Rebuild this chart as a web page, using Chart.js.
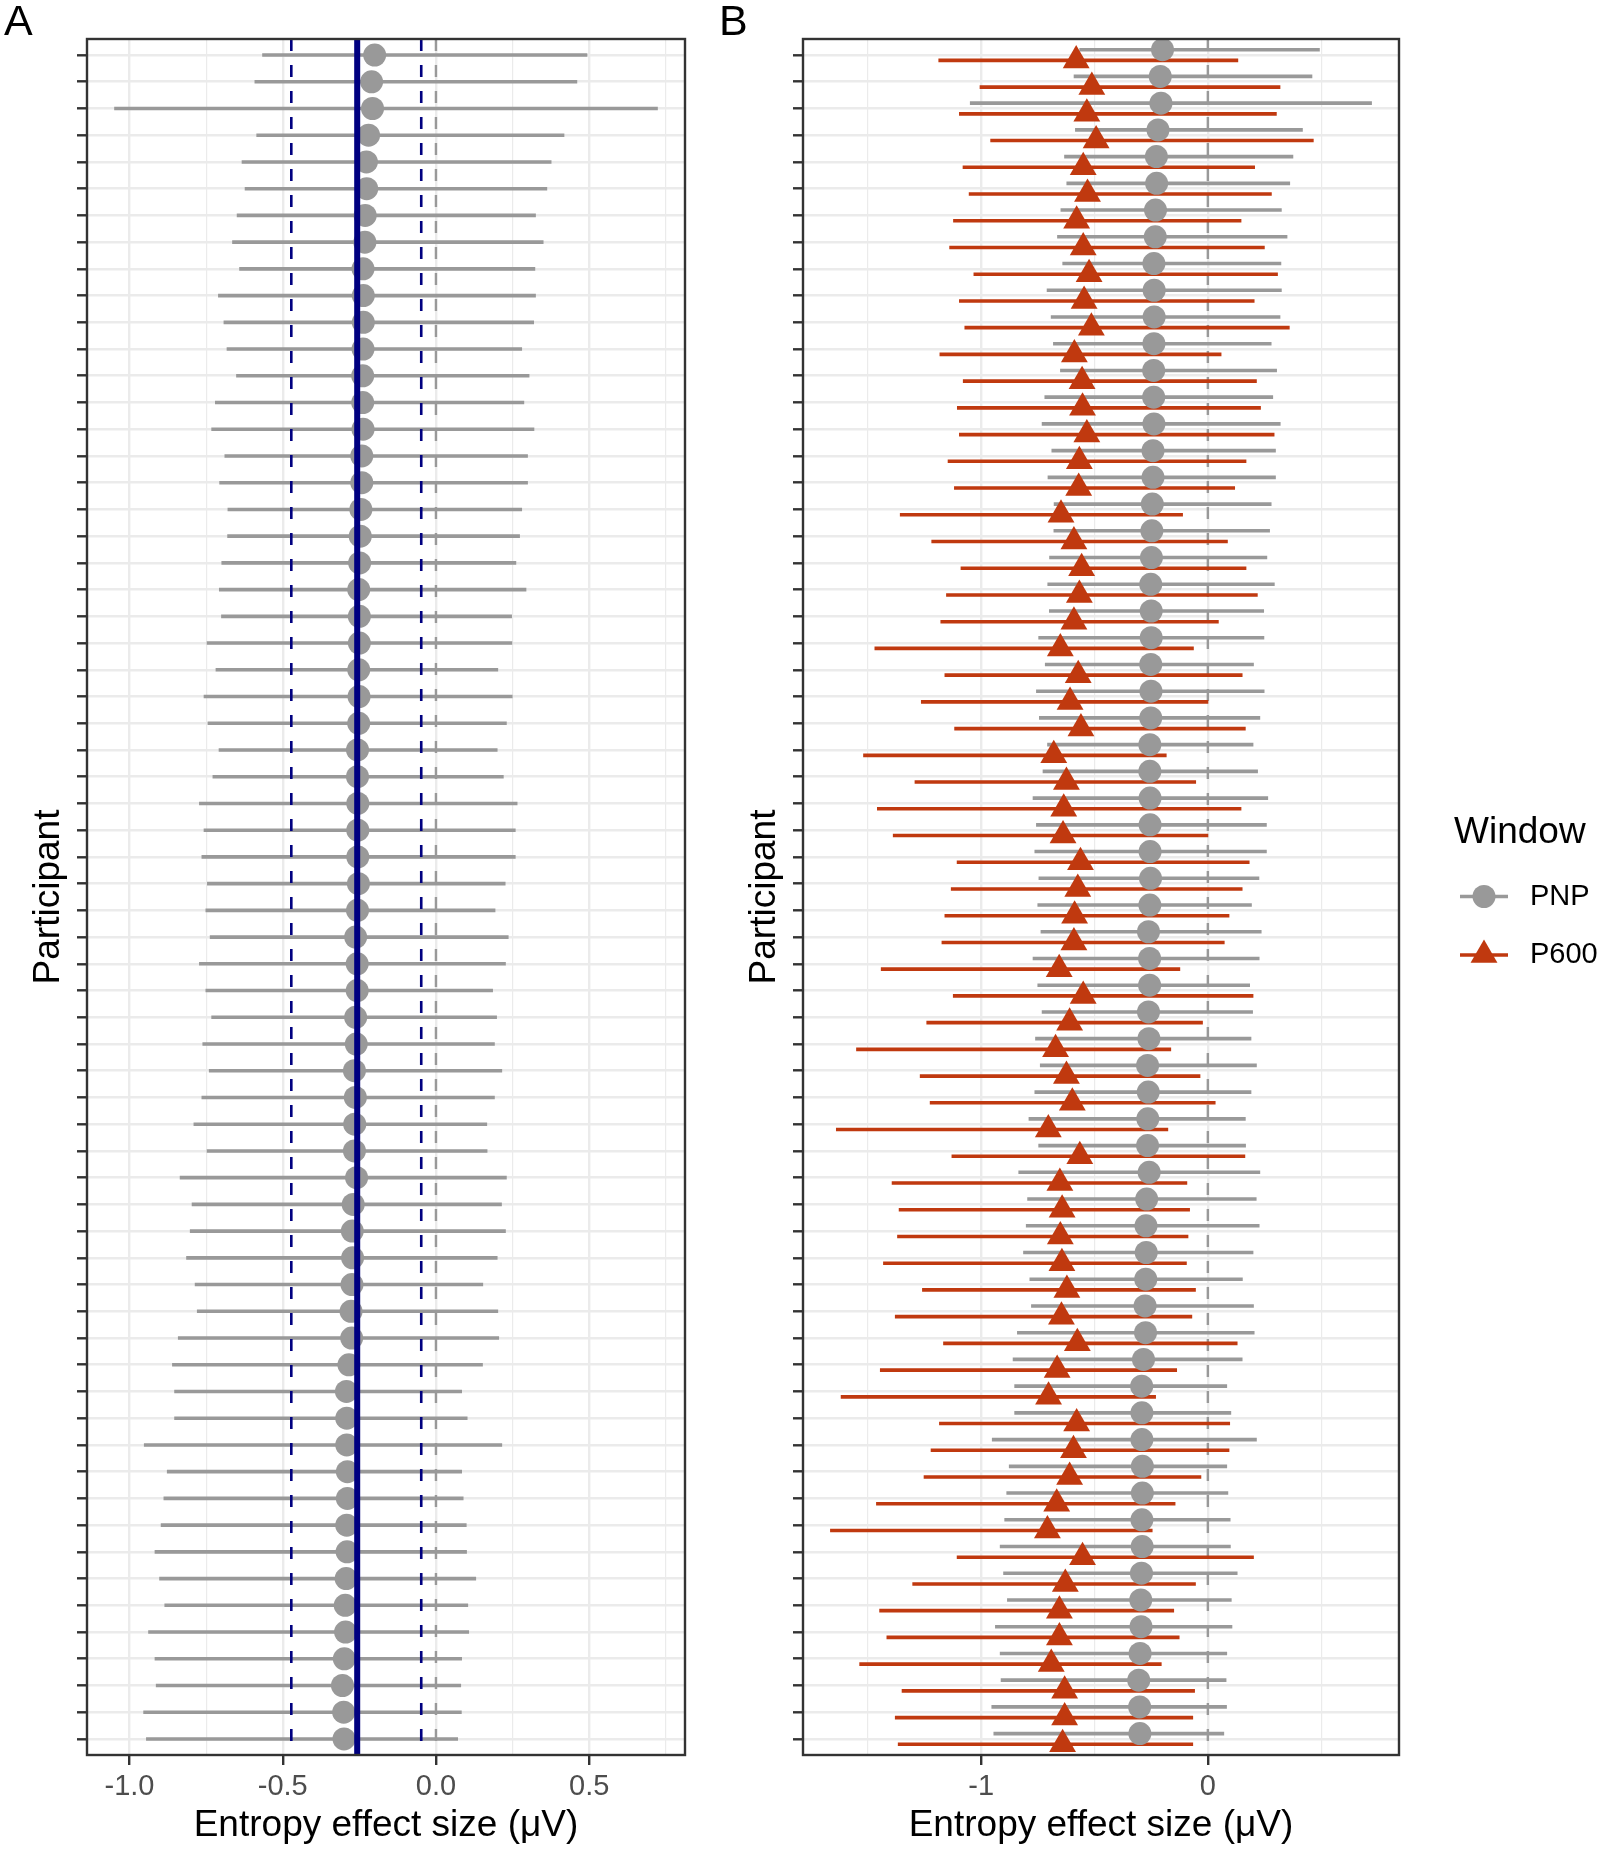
<!DOCTYPE html>
<html>
<head>
<meta charset="utf-8">
<title>Entropy effect size by participant</title>
<script src="https://cdn.jsdelivr.net/npm/chart.js@4.4.1/dist/chart.umd.min.js"></script>
<style>
  html, body { margin: 0; padding: 0; background: #ffffff; }
  .panel { position: absolute; top: 0; height: 1850px; }
  #panelA { left: 0; width: 700px; }
  #panelB { left: 700px; width: 903px; }
</style>
</head>
<body>
<div class="panel" id="panelA"><canvas id="chartA"></canvas></div>
<div class="panel" id="panelB"><canvas id="chartB"></canvas></div>
<script>
// 64 participants, listed top to bottom
const participants = Array.from({ length: 64 }, (_, i) => i + 1);

// PNP window: estimate and 95% interval per participant
const pnpEst = [
  -0.200, -0.210, -0.207, -0.220, -0.227, -0.226, -0.231, -0.232, -0.238, -0.237,
  -0.237, -0.238, -0.239, -0.239, -0.238, -0.242, -0.242, -0.245, -0.247, -0.249,
  -0.252, -0.250, -0.250, -0.252, -0.251, -0.252, -0.256, -0.256, -0.255, -0.255,
  -0.255, -0.253, -0.256, -0.262, -0.257, -0.257, -0.262, -0.260, -0.266, -0.263,
  -0.265, -0.266, -0.259, -0.270, -0.273, -0.272, -0.274, -0.277, -0.275, -0.284,
  -0.292, -0.291, -0.291, -0.289, -0.289, -0.291, -0.290, -0.293, -0.296, -0.295,
  -0.299, -0.305, -0.301, -0.300];
const pnpLow = [
  -0.567, -0.592, -1.050, -0.586, -0.634, -0.624, -0.650, -0.665, -0.642, -0.711,
  -0.693, -0.683, -0.652, -0.721, -0.733, -0.690, -0.707, -0.680, -0.681, -0.700,
  -0.708, -0.701, -0.748, -0.719, -0.758, -0.745, -0.709, -0.729, -0.773, -0.758,
  -0.765, -0.747, -0.752, -0.738, -0.773, -0.752, -0.733, -0.762, -0.741, -0.765,
  -0.791, -0.748, -0.836, -0.797, -0.803, -0.815, -0.787, -0.780, -0.842, -0.861,
  -0.854, -0.854, -0.953, -0.878, -0.889, -0.898, -0.918, -0.903, -0.886, -0.939,
  -0.918, -0.914, -0.955, -0.946];
const pnpHigh = [
  0.494, 0.461, 0.724, 0.419, 0.377, 0.363, 0.326, 0.351, 0.324, 0.326,
  0.320, 0.281, 0.305, 0.288, 0.321, 0.300, 0.300, 0.281, 0.274, 0.262,
  0.295, 0.248, 0.249, 0.203, 0.250, 0.231, 0.201, 0.221, 0.266, 0.260,
  0.260, 0.227, 0.194, 0.237, 0.228, 0.186, 0.199, 0.192, 0.216, 0.192,
  0.167, 0.168, 0.231, 0.215, 0.228, 0.201, 0.154, 0.203, 0.206, 0.153,
  0.085, 0.103, 0.216, 0.085, 0.090, 0.100, 0.101, 0.131, 0.105, 0.108,
  0.085, 0.082, 0.084, 0.072];

// P600 window
const p600Est = [
  -0.581, -0.512, -0.534, -0.493, -0.550, -0.531, -0.579, -0.550, -0.524, -0.546,
  -0.514, -0.589, -0.555, -0.553, -0.534, -0.567, -0.570, -0.648, -0.591, -0.557,
  -0.567, -0.591, -0.651, -0.572, -0.608, -0.560, -0.680, -0.624, -0.636, -0.639,
  -0.562, -0.574, -0.588, -0.591, -0.656, -0.550, -0.610, -0.672, -0.624, -0.598,
  -0.704, -0.565, -0.653, -0.643, -0.651, -0.644, -0.622, -0.646, -0.576, -0.665,
  -0.703, -0.579, -0.593, -0.610, -0.667, -0.708, -0.553, -0.629, -0.655, -0.655,
  -0.691, -0.632, -0.632, -0.641];
const p600Low = [
  -1.189, -1.007, -1.098, -0.960, -1.082, -1.055, -1.124, -1.141, -1.034, -1.098,
  -1.074, -1.184, -1.081, -1.107, -1.098, -1.148, -1.120, -1.359, -1.220, -1.091,
  -1.155, -1.180, -1.471, -1.162, -1.266, -1.119, -1.521, -1.294, -1.460, -1.390,
  -1.108, -1.134, -1.162, -1.175, -1.443, -1.125, -1.242, -1.552, -1.271, -1.227,
  -1.641, -1.131, -1.395, -1.364, -1.371, -1.433, -1.261, -1.381, -1.168, -1.447,
  -1.620, -1.186, -1.223, -1.254, -1.464, -1.667, -1.108, -1.304, -1.450, -1.418,
  -1.538, -1.351, -1.381, -1.368];
const p600High = [
  0.134, 0.320, 0.304, 0.467, 0.208, 0.282, 0.148, 0.251, 0.309, 0.206,
  0.361, 0.060, 0.216, 0.234, 0.294, 0.170, 0.120, -0.110, 0.088, 0.170,
  0.220, 0.048, -0.062, 0.153, 0.002, 0.167, -0.182, -0.052, 0.148, 0.002,
  0.184, 0.153, 0.095, 0.074, -0.122, 0.201, -0.022, -0.162, -0.033, 0.034,
  -0.175, 0.165, -0.091, -0.079, -0.086, -0.093, -0.053, -0.069, 0.131, -0.136,
  -0.229, 0.098, 0.095, -0.029, -0.143, -0.244, 0.203, -0.053, -0.149, -0.125,
  -0.204, -0.057, -0.065, -0.065];

// group-level PNP effect and its interval (vertical lines in panel A)
const pnpMean = -0.257;
const pnpMeanCI = [-0.472, -0.048];

const seriesNames = ['PNP', 'P600'];

// x axis ticks
const ticksA = [-1, -0.5, 0, 0.5];
const tickLabelsA = ['-1.0', '-0.5', '0.0', '0.5'];
const minorA = [-0.75, -0.25, 0.25, 0.75];
const ticksB = [-1, 0];
const tickLabelsB = ['-1', '0'];
const minorB = [-1.5, -0.5, 0.5];

const FONT = '"Liberation Sans", Arial, Helvetica, sans-serif';
const GREY = '#999999';
const RED = '#C0390F';
const NAVY = '#000080';
const GRID = '#EBEBEB';
const INK = '#333333';

Chart.defaults.font.family = FONT;

const yMin = 0.4;
const yMax = participants.length + 0.6;

function segments(lo, hi, shift) {
  const out = [];
  participants.forEach((p, i) => {
    out.push({ x: lo[i], y: p + shift }, { x: hi[i], y: p + shift }, { x: null, y: null });
  });
  return out;
}

function marks(est, shift) {
  return participants.map((p, i) => ({ x: est[i], y: p + shift }));
}

function vline(x) {
  return [{ x: x, y: yMin }, { x: x, y: yMax }];
}

// ggplot-like 5% expansion of the data range
function expandRange(arrays) {
  const all = [].concat(...arrays);
  const lo = Math.min(...all), hi = Math.max(...all);
  const pad = (hi - lo) * 0.05;
  return [lo - pad, hi + pad];
}

function lineSet(data, color, width, order, dash) {
  return {
    type: 'line', data: data, borderColor: color, borderWidth: width,
    borderDash: dash || [], borderCapStyle: 'butt', pointRadius: 0, pointHoverRadius: 0,
    fill: false, tension: 0, spanGaps: false, order: order
  };
}

function markSet(label, data, color, style, radius, order) {
  return {
    type: 'line', label: label, data: data, showLine: false,
    pointStyle: style, pointRadius: radius, pointHoverRadius: radius,
    pointBackgroundColor: color, pointBorderWidth: 0, borderColor: color, order: order
  };
}

const panelFrame = {
  id: 'panelFrame',
  afterDraw(chart, args, o) {
    const { ctx, chartArea: a } = chart;
    ctx.save();
    ctx.strokeStyle = INK;
    ctx.lineWidth = 2.4;
    ctx.strokeRect(a.left, a.top, a.right - a.left, a.bottom - a.top);
    ctx.fillStyle = '#000';
    ctx.font = '43px ' + FONT;
    ctx.textBaseline = 'alphabetic';
    ctx.fillText(o.tag, o.tagX, 35);
    ctx.restore();
  }
};

const windowLegend = {
  id: 'windowLegend',
  afterDraw(chart, args, o) {
    if (!o.items) return;
    const ctx = chart.ctx;
    ctx.save();
    ctx.textBaseline = 'middle';
    ctx.textAlign = 'left';
    ctx.fillStyle = '#000';
    ctx.font = '37px ' + FONT;
    ctx.fillText(o.title, o.x, o.titleY);
    ctx.font = '29px ' + FONT;
    o.items.forEach((it, k) => {
      const cy = o.firstY + k * o.step;
      ctx.strokeStyle = it.color;
      ctx.lineWidth = 3.6;
      ctx.beginPath();
      ctx.moveTo(o.keyX - 24, cy);
      ctx.lineTo(o.keyX + 24, cy);
      ctx.stroke();
      ctx.fillStyle = it.color;
      ctx.beginPath();
      if (it.shape === 'triangle') {
        const r = 15.5;
        ctx.moveTo(o.keyX, cy - r);
        ctx.lineTo(o.keyX + r * 0.866, cy + r / 2);
        ctx.lineTo(o.keyX - r * 0.866, cy + r / 2);
        ctx.closePath();
      } else {
        ctx.arc(o.keyX, cy, 11.5, 0, Math.PI * 2);
      }
      ctx.fill();
      ctx.fillStyle = '#000';
      ctx.fillText(it.label, o.labelX, cy);
    });
    ctx.restore();
  }
};

function buildOptions(cfg) {
  const majors = cfg.ticks;
  const isMajor = c => c.tick && majors.includes(c.tick.value);
  return {
    responsive: true,
    maintainAspectRatio: false,
    animation: false,
    events: [],
    layout: { padding: { left: 0, right: cfg.padRight, top: 39, bottom: 0 } },
    plugins: {
      legend: { display: false },
      tooltip: { enabled: false },
      panelFrame: { tag: cfg.tag, tagX: cfg.tagX },
      windowLegend: cfg.legend || {}
    },
    scales: {
      x: {
        type: 'linear',
        min: cfg.range[0],
        max: cfg.range[1],
        afterBuildTicks: s => {
          s.ticks = majors.concat(cfg.minor).sort((a, b) => a - b).map(v => ({ value: v }));
        },
        afterFit: s => { s.height = 95; },
        border: { display: false },
        grid: {
          color: GRID,
          lineWidth: c => isMajor(c) ? 2.4 : 1.2,
          tickLength: 10,
          tickWidth: 2.4,
          tickColor: c => isMajor(c) ? INK : 'rgba(0,0,0,0)'
        },
        ticks: {
          autoSkip: false,
          maxRotation: 0,
          padding: 5,
          color: '#4D4D4D',
          font: { size: 29 },
          callback: v => {
            const k = majors.indexOf(v);
            return k < 0 ? '' : cfg.labels[k];
          }
        },
        title: {
          display: true,
          text: 'Entropy effect size (μV)',
          color: '#000',
          font: { size: 37 },
          padding: { top: 0, bottom: 2 }
        }
      },
      y: {
        type: 'linear',
        reverse: true,
        min: yMin,
        max: yMax,
        afterBuildTicks: s => { s.ticks = participants.map(p => ({ value: p })); },
        afterFit: s => { s.width = cfg.yWidth; },
        border: { display: false },
        grid: {
          color: GRID,
          lineWidth: 2.6,
          tickLength: 10,
          tickWidth: 2.4,
          tickColor: INK
        },
        ticks: { autoSkip: false, padding: 0, callback: () => '' },
        title: {
          display: true,
          text: 'Participant',
          color: '#000',
          font: { size: 37 },
          padding: { top: cfg.titlePad, bottom: 0 }
        }
      }
    }
  };
}

// Panel A: PNP only, with group-level estimate
new Chart(document.getElementById('chartA'), {
  type: 'line',
  data: {
    datasets: [
      lineSet(vline(0), GREY, 2.4, 9, [12, 14]),
      lineSet(segments(pnpLow, pnpHigh, 0), GREY, 3.6, 8),
      markSet(seriesNames[0], marks(pnpEst, 0), GREY, 'circle', 11.5, 7),
      lineSet(vline(pnpMeanCI[0]), NAVY, 2.6, 3, [12, 14]),
      lineSet(vline(pnpMeanCI[1]), NAVY, 2.6, 2, [12, 14]),
      lineSet(vline(pnpMean), NAVY, 6, 1)
    ]
  },
  options: buildOptions({
    tag: 'A', tagX: 4, padRight: 15, yWidth: 87, titlePad: 27,
    range: expandRange([pnpLow, pnpHigh]),
    ticks: ticksA, labels: tickLabelsA, minor: minorA
  }),
  plugins: [panelFrame, windowLegend]
});

// Panel B: PNP vs P600, dodged within participant
new Chart(document.getElementById('chartB'), {
  type: 'line',
  data: {
    datasets: [
      lineSet(vline(0), GREY, 2.4, 9, [12, 14]),
      lineSet(segments(pnpLow, pnpHigh, -0.2), GREY, 3.6, 8),
      lineSet(segments(p600Low, p600High, 0.2), RED, 3.6, 7),
      markSet(seriesNames[0], marks(pnpEst, -0.2), GREY, 'circle', 11.5, 6),
      markSet(seriesNames[1], marks(p600Est, 0.2), RED, 'triangle', 15.5, 5)
    ]
  },
  options: buildOptions({
    tag: 'B', tagX: 19, padRight: 204, yWidth: 103, titlePad: 43,
    range: expandRange([pnpLow, pnpHigh, p600Low, p600High]),
    ticks: ticksB, labels: tickLabelsB, minor: minorB,
    legend: {
      title: 'Window', x: 754, titleY: 833,
      keyX: 784, labelX: 830, firstY: 896.5, step: 58.5,
      items: [
        { label: seriesNames[0], color: GREY, shape: 'circle' },
        { label: seriesNames[1], color: RED, shape: 'triangle' }
      ]
    }
  }),
  plugins: [panelFrame, windowLegend]
});
</script>
</body>
</html>
